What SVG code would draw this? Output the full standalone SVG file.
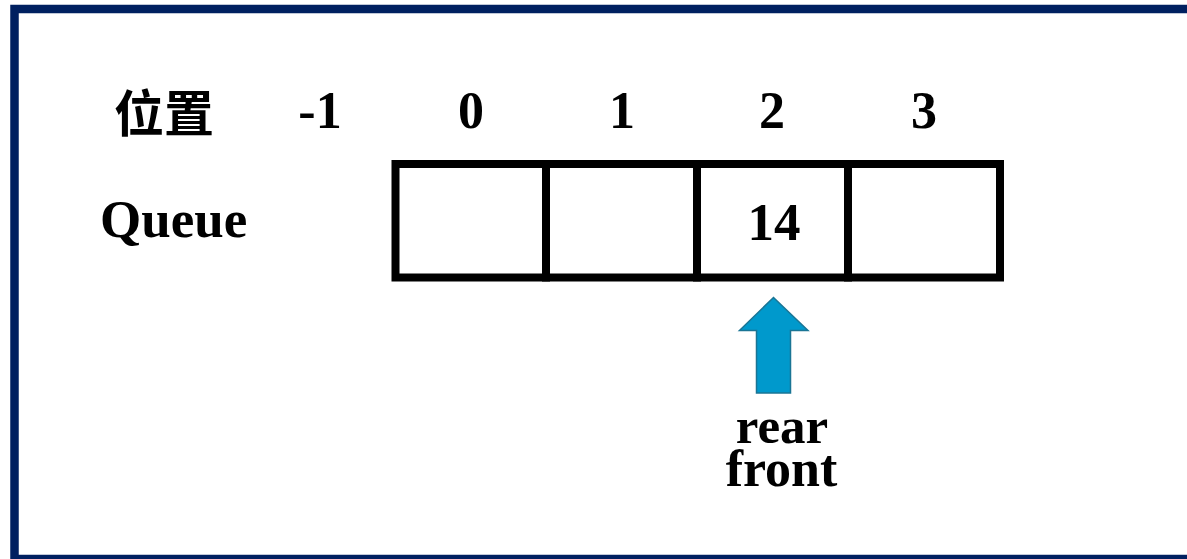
<svg xmlns="http://www.w3.org/2000/svg" width="1187" height="559" viewBox="0 0 1187 559">
<style>
.t{font-family:"Liberation Serif","Noto Sans CJK TC",serif;font-weight:bold;fill:#000;}
.cell{fill:#fff;stroke:#000;stroke-width:8;}
.arrow{fill:#0099cc;stroke:#1a7595;stroke-width:1.5;}
</style>
<rect width="1187" height="559" fill="#fff"/>
<rect x="14.5" y="9" width="1200" height="550" fill="none" stroke="#002060" stroke-width="8.5"/>
<g id="labels">
<text class="t" x="114" y="132" font-size="50">位置</text>
<text class="t" x="320" y="128" font-size="52" text-anchor="middle">-1</text>
<text class="t" x="471" y="128" font-size="52" text-anchor="middle">0</text>
<text class="t" x="622" y="128" font-size="52" text-anchor="middle">1</text>
<text class="t" x="772" y="128" font-size="52" text-anchor="middle">2</text>
<text class="t" x="924" y="128" font-size="52" text-anchor="middle">3</text>
<text class="t" x="100" y="237" font-size="53">Queue</text>
</g>
<g id="queue">
<rect class="cell" x="395.5" y="164" width="150.5" height="113.5"/>
<rect class="cell" x="546" y="164" width="151" height="113.5"/>
<rect class="cell" x="697" y="164" width="151" height="113.5"/>
<rect class="cell" x="848" y="164" width="152" height="113.5"/>
<text class="t" x="774" y="240" font-size="53" text-anchor="middle">14</text>
</g>
<g id="connectors">
<polygon class="arrow" points="773.5,297.5 808,330.5 790.5,330.5 790.5,393 756.5,393 756.5,330.5 739.5,330.5"/>
</g>
<g id="pointer">
<text class="t" x="782" y="443" font-size="51" text-anchor="middle">rear</text>
<text class="t" x="781.5" y="486" font-size="52" text-anchor="middle">front</text>
</g>
</svg>
